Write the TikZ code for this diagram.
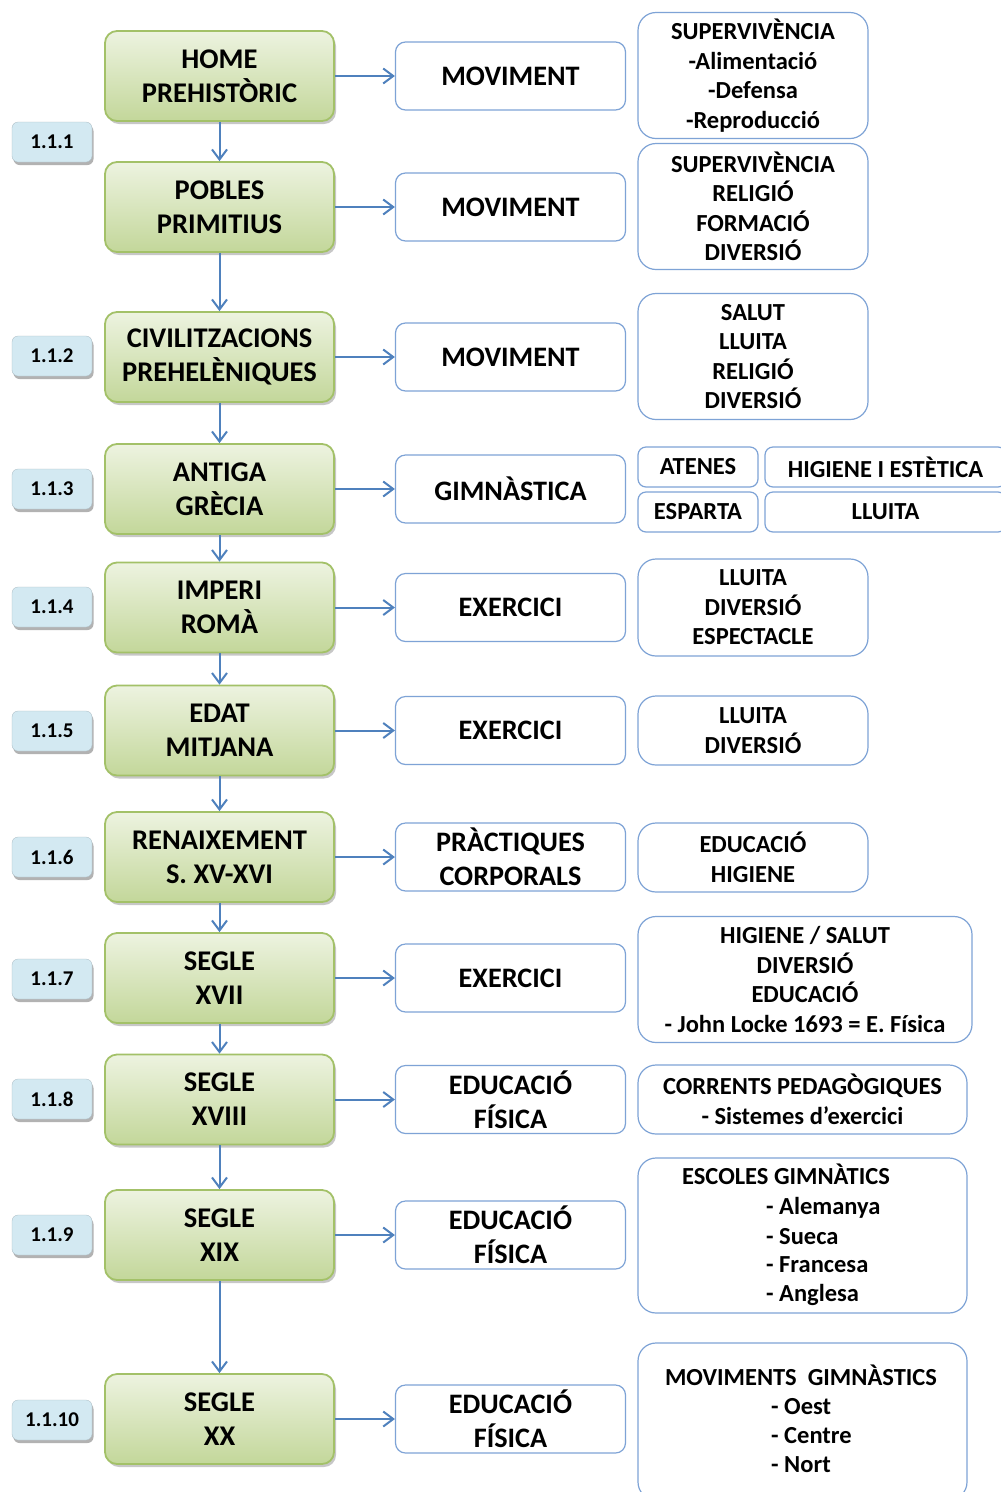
\documentclass[tikz,border=0pt]{standalone}
\usepackage{fontspec}
\setmainfont{Carlito}
\usetikzlibrary{arrows.meta,shadows}
\definecolor{arrowblue}{HTML}{4F81BD}
\definecolor{boxblue}{HTML}{7EA3D6}
\definecolor{greenborder}{HTML}{A3C168}
\definecolor{greentop}{HTML}{EDF3E0}
\definecolor{greenbot}{HTML}{C3D79A}
\definecolor{labelfill}{HTML}{D3E9F2}
\begin{document}
\begin{tikzpicture}[x=1pt,y=-1pt,
  era/.style={draw=greenborder, line width=1.8pt, rounded corners=12pt,
    top color=greentop, bottom color=greenbot, minimum width=229pt, minimum height=90pt,
    inner sep=0pt, align=center, font=\fontsize{28.5}{34}\selectfont\bfseries,
    drop shadow={shadow xshift=2pt, shadow yshift=-3pt, fill=black, opacity=0.22}},
  lab/.style={fill=labelfill, draw=labelfill!80!black, line width=0.3pt, rounded corners=6pt,
    minimum width=80pt, minimum height=40pt, inner sep=0pt,
    font=\fontsize{21}{24}\selectfont\bfseries,
    drop shadow={shadow xshift=1.5pt, shadow yshift=-3pt, fill=black, opacity=0.3}},
  mid/.style={draw=boxblue, line width=1.2pt, fill=white, rounded corners=10pt,
    minimum width=230pt, minimum height=68pt, inner sep=0pt, align=center,
    font=\fontsize{28.2}{34}\selectfont\bfseries},
  rbox/.style={draw=boxblue, line width=1.2pt, fill=white, rounded corners=18pt,
    inner sep=0pt, align=center, font=\fontsize{24.5}{29.5}\selectfont\bfseries},
  sbox/.style={draw=boxblue, line width=1.2pt, fill=white, rounded corners=8pt,
    inner sep=0pt, align=center, minimum height=40pt, font=\fontsize{24.5}{29.5}\selectfont\bfseries},
  rtext/.style={inner sep=0pt, font=\fontsize{24.5}{29.5}\selectfont\bfseries},
  arr/.style={draw=arrowblue, line width=2pt, -{Straight Barb[length=10pt,width=15pt,line width=2pt]}}
]
\clip (0,0) rectangle (1001,1492);
\fill[white] (0,0) rectangle (1001,1492);

% era boxes
\node[era] (g1) at (219.5,76) {HOME\\PREHISTÒRIC};
\node[era] (g2) at (219.5,207) {POBLES\\PRIMITIUS};
\node[era] (g3) at (219.5,357) {CIVILITZACIONS\\PREHELÈNIQUES};
\node[era] (g4) at (219.5,489) {ANTIGA\\GRÈCIA};
\node[era] (g5) at (219.5,607.5) {IMPERI\\ROMÀ};
\node[era] (g6) at (219.5,730.5) {EDAT\\MITJANA};
\node[era] (g7) at (219.5,857) {RENAIXEMENT\\S. XV-XVI};
\node[era] (g8) at (219.5,978) {SEGLE\\XVII};
\node[era] (g9) at (219.5,1099.5) {SEGLE\\XVIII};
\node[era] (g10) at (219.5,1235) {SEGLE\\XIX};
\node[era] (g11) at (219.5,1419) {SEGLE\\XX};

% labels
\node[lab] (l1) at (52,142) {1.1.1};
\node[lab] (l2) at (52,356) {1.1.2};
\node[lab] (l3) at (52,489) {1.1.3};
\node[lab] (l4) at (52,607) {1.1.4};
\node[lab] (l5) at (52,731) {1.1.5};
\node[lab] (l6) at (52,857) {1.1.6};
\node[lab] (l7) at (52,979) {1.1.7};
\node[lab] (l8) at (52,1099) {1.1.8};
\node[lab] (l9) at (52,1235) {1.1.9};
\node[lab] (l10) at (52,1420) {1.1.10};

% middle boxes
\node[mid] (m1) at (510.5,76) {MOVIMENT};
\node[mid] (m2) at (510.5,207) {MOVIMENT};
\node[mid] (m3) at (510.5,357) {MOVIMENT};
\node[mid] (m4) at (510.5,489) {GIMNÀSTICA};
\node[mid] (m5) at (510.5,607.5) {EXERCICI};
\node[mid] (m6) at (510.5,730.5) {EXERCICI};
\node[mid] (m7) at (510.5,857) {PRÀCTIQUES\\CORPORALS};
\node[mid] (m8) at (510.5,978) {EXERCICI};
\node[mid] (m9) at (510.5,1099.5) {EDUCACIÓ\\FÍSICA};
\node[mid] (m10) at (510.5,1235) {EDUCACIÓ\\FÍSICA};
\node[mid] (m11) at (510.5,1419) {EDUCACIÓ\\FÍSICA};

% right boxes
\node[rbox, minimum width=230pt, minimum height=126pt] (r1) at (753,75.5)
  {SUPERVIVÈNCIA\\-Alimentació\\-Defensa\\-Reproducció};
\node[rbox, minimum width=230pt, minimum height=126pt] (r2) at (753,206.5)
  {SUPERVIVÈNCIA\\RELIGIÓ\\FORMACIÓ\\DIVERSIÓ};
\node[rbox, minimum width=230pt, minimum height=126pt] (r3) at (753,356.5)
  {SALUT\\LLUITA\\RELIGIÓ\\DIVERSIÓ};
\node[sbox, minimum width=120pt] (r4a) at (698,467) {ATENES};
\node[sbox, minimum width=241pt] (r4b) at (885.5,467) {HIGIENE I ESTÈTICA};
\node[sbox, minimum width=120pt] (r4c) at (698,512) {ESPARTA};
\node[sbox, minimum width=241pt] (r4d) at (885.5,512) {LLUITA};
\node[rbox, minimum width=230pt, minimum height=97pt] (r5) at (753,607.5)
  {LLUITA\\DIVERSIÓ\\ESPECTACLE};
\node[rbox, minimum width=230pt, minimum height=69pt] (r6) at (753,730.5)
  {LLUITA\\DIVERSIÓ};
\node[rbox, minimum width=230pt, minimum height=69pt] (r7) at (753,857.5)
  {EDUCACIÓ\\HIGIENE};
\node[rbox, minimum width=334pt, minimum height=126pt] (r8) at (805,979.5)
  {HIGIENE / SALUT\\DIVERSIÓ\\EDUCACIÓ\\- John Locke 1693 = E. Física};
\node[rbox, minimum width=329pt, minimum height=69pt] (r9) at (802.5,1099.5)
  {CORRENTS PEDAGÒGIQUES\\- Sistemes d’exercici};
\node[rbox, minimum width=329pt, minimum height=155pt] (r10) at (802.5,1235.5) {};
\node[rbox, minimum width=329pt, minimum height=157pt] (r11) at (802.5,1421.5) {};

\node[rtext, anchor=base] (t10a) at (786,1184) {ESCOLES GIMNÀTICS};
\node[rtext, anchor=base west] (t10b) at (766,1214) {- Alemanya};
\node[rtext, anchor=base west] (t10c) at (766,1244) {- Sueca};
\node[rtext, anchor=base west] (t10d) at (766,1272) {- Francesa};
\node[rtext, anchor=base west] (t10e) at (766,1301) {- Anglesa};

\node[rtext, anchor=base] (t11a) at (801,1385) {MOVIMENTS\ \ GIMNÀSTICS};
\node[rtext, anchor=base west] (t11b) at (771,1414) {- Oest};
\node[rtext, anchor=base west] (t11c) at (771,1443) {- Centre};
\node[rtext, anchor=base west] (t11d) at (771,1472) {- Nort};

% horizontal arrows
\foreach \i in {1,...,11} {\draw[arr] (g\i) -- (m\i);}
% vertical arrows
\foreach \i/\j in {1/2,2/3,3/4,4/5,5/6,6/7,7/8,8/9,9/10,10/11} {\draw[arr] (g\i) -- (g\j);}
\end{tikzpicture}
\end{document}
